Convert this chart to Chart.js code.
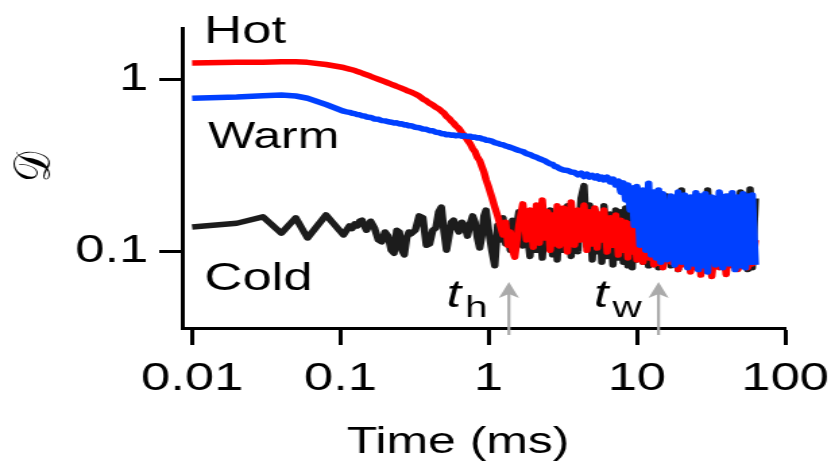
<!DOCTYPE html>
<html><head><meta charset="utf-8">
<script src="https://cdn.jsdelivr.net/npm/chart.js@4.4.1/dist/chart.umd.min.js"></script>
<style>
html,body{margin:0;padding:0;background:#fff;overflow:hidden;width:831px;height:465px;}
#wrap{position:absolute;left:0;top:0;width:616px;height:465px;transform:scaleX(1.349);transform-origin:0 0;}
</style></head><body>
<div id="wrap"><canvas id="c" width="616" height="465"></canvas></div>
<script>
// Sample times (ms)
const time = [
  0.01,0.02,0.03,0.04,0.05,0.06,0.08,
  0.105,0.11,0.115,0.12,0.125,0.13,0.135,0.14,0.145,0.15, 0.16,0.17,0.18,0.19,0.2,
  0.21,0.22,0.23,0.24,0.25,0.26,0.27,0.28,0.29,0.3, 0.32,0.34,0.36,0.38,0.4,
  0.42,0.44,0.46,0.48,0.5, 0.52,0.54,0.56,0.58,0.6, 0.63,0.66,0.69,0.72,0.75,
  0.78,0.81,0.84,0.87,0.9, 0.93,0.96,1.0,
  1.05,1.1,1.15,1.2,1.25,1.3,1.35,1.4,1.45,1.5, 1.6,1.7,1.8,1.9,2.0,
  2.1,2.2,2.3,2.4,2.5,2.6,2.7,2.8,2.9,3.0, 3.2,3.4,3.6,3.8,4.0,
  4.2,4.4,4.6,4.8,5.0, 5.2,5.4,5.6,5.8,6.0, 6.3,6.6,6.9,7.2,7.5,
  7.8,8.1,8.4,8.7,9.0, 9.3,9.6,10,
  10.5,11,11.5,12,12.5,13,13.5,14,14.5,15, 16,17,18,19,20,
  21,22,23,24,25,26,27,28,29,30, 32,34,36,38,40,
  42,44,46,48,50, 52,54,56,58,60, 63
];
// Hot (red)
const hot = [
  1.24,1.25,1.25,1.26,1.26,1.25,1.215,
  1.166,1.154,1.143,1.132,1.12,1.107,1.094,1.082,1.069,1.058, 1.037,1.016,0.997,0.98,0.964,
  0.948,0.933,0.92,0.906,0.894,0.882,0.87,0.858,0.848,0.839, 0.818,0.796,0.766,0.747,0.722,
  0.706,0.685,0.672,0.651,0.633, 0.607,0.591,0.569,0.555,0.535, 0.516,0.487,0.468,0.441,0.421,
  0.394,0.378,0.35,0.336,0.31, 0.288,0.26,0.2355,
  0.206,0.18,0.16,0.14,0.124,0.147,0.108,0.129,0.101,0.092, 0.141,0.188,0.116,0.173,0.105,
  0.185,0.111,0.198,0.119,0.169,0.101,0.162,0.11,0.183,0.107, 0.178,0.0987,0.193,0.108,0.173,
  0.116,0.185,0.101,0.169,0.11, 0.178,0.104,0.164,0.116,0.173, 0.0987,0.156,0.108,0.162,0.0948,
  0.151,0.101,0.147,0.0911,0.144, 0.0987,0.139,0.0887,
  0.135,0.086,0.132,0.091,0.127,0.083,0.129,0.085,0.122,0.08, 0.122,0.086,0.126,0.078,0.118,
  0.083,0.122,0.0755,0.116,0.08,0.12,0.0725,0.116,0.082,0.118, 0.071,0.116,0.08,0.12,0.073,
  0.116,0.082,0.118,0.078,0.116, 0.086,0.122,0.08,0.118,0.084, 0.116
];
// Warm (blue)
const warm = [
  0.772,0.786,0.80,0.807,0.797,0.773,0.711,
  0.65,0.644,0.64,0.632,0.629,0.621,0.619,0.612,0.61,0.602, 0.598,0.586,0.583,0.573,0.571,
  0.564,0.561,0.555,0.556,0.548,0.549,0.541,0.542,0.534,0.535, 0.524,0.521,0.512,0.51,0.501,
  0.5,0.49,0.489,0.481,0.481, 0.474,0.476,0.471,0.473,0.468, 0.471,0.465,0.468,0.463,0.465,
  0.458,0.46,0.454,0.456,0.448, 0.448,0.441,0.44,
  0.435,0.427,0.423,0.417,0.415,0.408,0.405,0.4,0.397,0.392, 0.384,0.379,0.368,0.364,0.356,
  0.351,0.344,0.339,0.334,0.327,0.321,0.319,0.31,0.308,0.302, 0.296,0.294,0.288,0.286,0.277,
  0.284,0.271,0.28,0.269,0.275, 0.266,0.273,0.262,0.269,0.259, 0.269,0.252,0.262,0.242,0.255,
  0.22,0.249,0.198,0.242,0.173, 0.2325,0.141,0.237,
  0.108,0.226,0.101,0.248,0.095,0.22,0.091,0.226,0.086,0.215, 0.089,0.209,0.083,0.22,0.086,
  0.212,0.08,0.206,0.084,0.218,0.078,0.209,0.082,0.215,0.0755, 0.206,0.083,0.22,0.08,0.209,
  0.084,0.218,0.078,0.206,0.082, 0.215,0.08,0.209,0.086,0.212, 0.083
];
// Cold (black)
const cold = [
  0.138,0.145,0.158,0.127,0.156,0.119,0.162,
  0.124,0.132,0.14,0.135,0.144,0.14,0.149,0.151,0.14,0.132, 0.149,0.136,0.116,0.113,0.129,
  0.122,0.101,0.097,0.132,0.129,0.101,0.095,0.119,0.129,0.126, 0.132,0.16,0.156,0.108,0.11,
  0.132,0.136,0.169,0.18,0.129, 0.101,0.122,0.147,0.151,0.14, 0.129,0.147,0.14,0.122,0.144,
  0.16,0.147,0.119,0.104,0.122, 0.16,0.173,0.132,
  0.101,0.082,0.141,0.116,0.156,0.11,0.132,0.101,0.151,0.116, 0.169,0.107,0.14,0.093,0.164,
  0.101,0.147,0.091,0.156,0.104,0.173,0.095,0.151,0.0887,0.162, 0.101,0.183,0.093,0.164,0.099,
  0.202,0.24,0.107,0.185,0.0887, 0.173,0.099,0.162,0.086,0.183, 0.093,0.164,0.083,0.173,0.091,
  0.169,0.086,0.178,0.082,0.169, 0.08,0.19,0.0887,
  0.198,0.086,0.185,0.082,0.202,0.086,0.193,0.08,0.198,0.084, 0.209,0.082,0.2,0.078,0.226,
  0.084,0.202,0.08,0.198,0.082,0.209,0.078,0.2,0.084,0.226, 0.08,0.202,0.082,0.198,0.078,
  0.209,0.084,0.202,0.08,0.22, 0.082,0.209,0.078,0.229,0.08, 0.202
];
const xTicks = [0.01, 0.1, 1, 10, 100];
const xTickLabels = ['0.01', '0.1', '1', '10', '100'];
const yTicks = [0.1, 1];
const yTickLabels = ['0.1', '1'];
const xTitle = 'Time (ms)';
const yTitle = '\u{1D49F}';
// characteristic times (ms): t_h and t_w
const markerNames = ['h', 'w'];
const markerTimes = [1.37, 14];

const FONT = '"Liberation Sans", Arial, Helvetica, sans-serif';
const pts = arr => time.map((t, i) => ({x: t, y: arr[i]}));

const annot = {
  id: 'annot',
  afterDraw(chart) {
    const ctx = chart.ctx, xs = chart.scales.x, ys = chart.scales.y, ca = chart.chartArea;
    ctx.save();
    ctx.fillStyle = '#000';
    ctx.textAlign = 'left';
    ctx.textBaseline = 'alphabetic';
    ctx.font = '39px ' + FONT;
    ctx.fillText('Hot', xs.getPixelForValue(0.01205), ys.getPixelForValue(1.626));
    ctx.fillText('Cold', xs.getPixelForValue(0.0121), ys.getPixelForValue(0.0593));
    ctx.font = '37px ' + FONT;
    ctx.fillText('Warm', xs.getPixelForValue(0.0128), ys.getPixelForValue(0.397));
    // t_h, t_w labels
    const tPos = [0.52, 5.12];
    const tBase = ys.getPixelForValue(0.0473);
    markerNames.forEach((n, i) => {
      const x0 = xs.getPixelForValue(tPos[i]);
      ctx.font = 'italic 39px ' + FONT;
      ctx.fillText('t', x0, tBase);
      const w = ctx.measureText('t').width;
      ctx.font = '30px ' + FONT;
      ctx.fillText(n, x0 + w + 3, tBase + 10.5);
    });
    // arrows
    ctx.strokeStyle = '#aaaaaa';
    ctx.fillStyle = '#aaaaaa';
    markerTimes.forEach(t => {
      const x = xs.getPixelForValue(t);
      const yTip = ys.getPixelForValue(0.066);
      const yTail = ca.bottom + 7;
      ctx.lineWidth = 2.2;
      ctx.beginPath();
      ctx.moveTo(x, yTail);
      ctx.lineTo(x, yTip + 10);
      ctx.stroke();
      ctx.beginPath();
      ctx.moveTo(x, yTip);
      ctx.lineTo(x - 7.5, yTip + 16);
      ctx.lineTo(x, yTip + 12);
      ctx.lineTo(x + 7.5, yTip + 16);
      ctx.closePath();
      ctx.fill();
    });
    // axis titles
    ctx.fillStyle = '#000';
    ctx.font = '37px ' + FONT;
    ctx.fillText(xTitle, 257, 453);
    ctx.save();
    ctx.translate(27, 167);
    ctx.rotate(-Math.PI / 2);
    ctx.textAlign = 'center';
    ctx.textBaseline = 'middle';
    ctx.font = '38px "DejaVu Serif", "DejaVu Sans", serif';
    ctx.fillText(yTitle, 0, 0);
    ctx.restore();
    ctx.restore();
  }
};

new Chart(document.getElementById('c'), {
  type: 'line',
  data: {
    datasets: [
      {label: 'Warm', data: pts(warm), borderColor: '#0040ff'},
      {label: 'Hot', data: pts(hot), borderColor: '#ff0000'},
      {label: 'Cold', data: pts(cold), borderColor: '#1c1c1c'}
    ]
  },
  options: {
    responsive: false,
    animation: false,
    devicePixelRatio: 1,
    layout: {padding: {left: 0, top: 28, right: 34, bottom: 0}},
    plugins: {legend: {display: false}, tooltip: {enabled: false}, title: {display: false}},
    elements: {
      point: {radius: 0},
      line: {borderWidth: 5.5, tension: 0, borderJoinStyle: 'round', fill: false}
    },
    scales: {
      x: {
        type: 'logarithmic', position: 'bottom', bounds: 'data',
        min: 0.00856, max: 100,
        afterFit(s) { s.height = 137; s.paddingLeft = 0; s.paddingRight = 0; },
        afterBuildTicks(s) { s.ticks = xTicks.map(v => ({value: v})); },
        ticks: {autoSkip: false, maxRotation: 0, minRotation: 0, padding: 11, color: '#000',
                font: {family: FONT, size: 39}, callback: (v, i) => xTickLabels[i]},
        grid: {drawOnChartArea: false, drawTicks: true, tickLength: 17, tickWidth: 3, tickColor: '#000'},
        border: {display: true, width: 3, color: '#000'}
      },
      y: {
        type: 'logarithmic', position: 'left', bounds: 'data',
        min: 0.03567, max: 1.98,
        afterFit(s) { s.width = 135; s.paddingTop = 0; s.paddingBottom = 0; },
        afterBuildTicks(s) { s.ticks = yTicks.map(v => ({value: v})); },
        ticks: {autoSkip: false, padding: 8, color: '#000',
                font: {family: FONT, size: 39}, callback: (v, i) => yTickLabels[i]},
        grid: {drawOnChartArea: false, drawTicks: true, tickLength: 17, tickWidth: 3, tickColor: '#000'},
        border: {display: true, width: 3, color: '#000'}
      }
    }
  },
  plugins: [annot]
});
</script>
</body></html>
